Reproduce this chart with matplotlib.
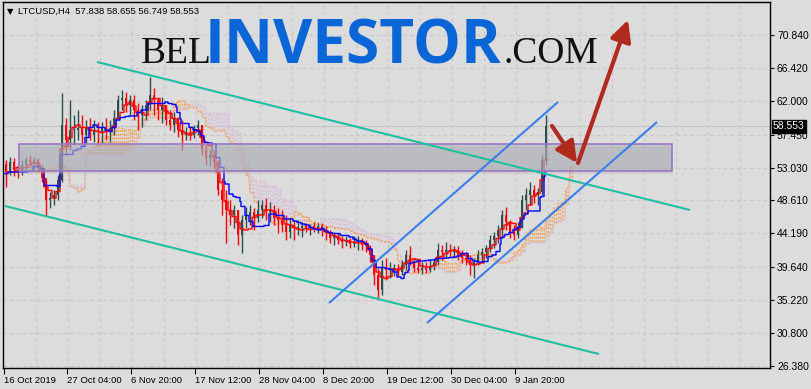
import matplotlib.pyplot as plt
import numpy as np
import pandas as pd

# LTCUSD H4 prices, one candle here per 4 H4 bars
first_open = 53.5
highs = [54.05, 54.45, 54.32, 53.38, 54.05, 54.45, 54.72, 54.45, 54.32, 53.38,
         51.36, 49.75, 50.02, 52.03, 63.05, 59.69, 62.11, 60.10, 60.77, 60.10,
         59.42, 59.69, 59.42, 59.15, 59.15, 59.69, 59.42, 60.77, 62.78, 63.45,
         63.18, 62.78, 62.78, 61.71, 61.44, 62.11, 65.20, 63.72, 62.38, 62.51,
         61.44, 60.77, 60.50, 59.83, 59.42, 58.48, 58.62, 58.75, 59.42, 58.75,
         56.06, 55.39, 55.39, 54.05, 51.63, 50.02, 48.68, 48.01, 47.33, 46.66,
         47.74, 48.01, 47.60, 48.68, 48.68, 48.95, 48.41, 48.01, 47.60, 47.33,
         46.66, 46.26, 45.99, 45.99, 45.72, 45.59, 45.45, 45.72, 45.59, 45.59,
         45.19, 44.65, 44.38, 44.24, 43.84, 43.84, 43.57, 43.84, 43.84, 43.57,
         43.31, 42.63, 41.29, 39.54, 40.62, 40.89, 40.35, 40.08, 40.08, 40.62,
         41.96, 42.50, 40.89, 40.62, 40.35, 40.35, 40.62, 40.89, 42.90, 42.63,
         43.03, 42.76, 42.50, 42.50, 41.96, 41.69, 41.29, 40.89, 41.96, 42.23,
         42.63, 43.98, 44.38, 45.32, 47.33, 47.74, 45.99, 45.32, 45.72, 49.35,
         50.29, 51.09, 50.69, 50.29, 54.72, 60.10]
lows = [50.42, 52.03, 51.90, 51.63, 52.03, 52.71, 52.97, 52.71, 52.44, 51.09,
        46.53, 47.60, 48.01, 48.68, 51.09, 54.72, 55.39, 56.06, 56.74, 56.06,
        56.33, 56.74, 56.47, 56.06, 56.33, 56.74, 56.47, 57.41, 59.42, 60.77,
        60.50, 60.10, 59.42, 58.08, 58.48, 59.42, 60.77, 60.10, 59.42, 59.02,
        58.75, 58.08, 57.81, 57.14, 55.39, 56.74, 56.74, 57.00, 57.41, 54.72,
        53.38, 53.24, 52.97, 49.35, 46.66, 42.90, 45.32, 44.92, 42.63, 41.56,
        44.92, 45.32, 44.65, 45.72, 46.26, 45.99, 45.72, 45.32, 44.24, 44.38,
        43.31, 43.57, 43.31, 43.98, 43.71, 44.38, 43.98, 44.38, 44.24, 43.84,
        43.31, 42.90, 42.63, 42.76, 42.23, 42.50, 42.23, 42.36, 41.96, 41.96,
        41.69, 40.35, 37.26, 35.38, 35.92, 37.93, 38.20, 38.47, 38.47, 38.59,
        39.28, 39.95, 39.01, 38.87, 38.74, 38.87, 39.01, 39.28, 39.95, 40.62,
        40.89, 41.02, 40.89, 40.62, 40.21, 39.95, 38.59, 38.20, 39.95, 40.35,
        40.89, 41.69, 42.23, 42.90, 43.57, 44.65, 43.57, 43.31, 43.57, 44.92,
        47.33, 48.01, 48.28, 48.01, 49.35, 53.38]
closes = [52.44, 53.78, 52.71, 52.44, 53.38, 54.05, 53.78, 54.05, 52.97, 51.63,
          48.68, 48.95, 49.35, 51.36, 58.75, 56.74, 58.08, 58.08, 58.35, 57.41,
          58.35, 57.41, 58.08, 57.81, 58.35, 58.08, 58.35, 59.69, 62.11, 62.38,
          61.44, 62.11, 60.77, 60.10, 60.77, 61.44, 62.78, 62.11, 60.77, 61.44,
          59.42, 58.75, 59.69, 58.08, 57.41, 57.81, 57.41, 58.35, 58.75, 55.39,
          54.32, 54.72, 53.78, 50.02, 48.68, 47.33, 46.66, 47.33, 43.98, 45.99,
          46.66, 47.07, 46.26, 47.33, 48.01, 47.07, 47.33, 46.26, 45.99, 45.32,
          44.38, 45.32, 44.92, 44.92, 45.19, 44.92, 45.19, 44.92, 45.19, 44.65,
          44.24, 43.57, 43.84, 43.31, 43.03, 43.31, 42.76, 43.03, 43.31, 42.63,
          42.50, 41.29, 38.59, 36.59, 39.54, 39.28, 39.28, 39.54, 39.01, 39.95,
          41.29, 40.35, 39.54, 39.28, 39.54, 39.28, 39.81, 40.35, 41.96, 41.69,
          41.96, 41.69, 41.96, 41.29, 40.89, 40.62, 39.95, 40.35, 41.29, 41.69,
          42.23, 43.31, 43.84, 44.65, 46.66, 45.72, 44.38, 43.98, 44.92, 48.68,
          49.35, 50.02, 49.35, 49.75, 54.05, 58.55]
bar_step = 4

tick_pos = [0, 63, 127, 191, 255, 319, 383, 447, 511]
tick_labels = ['16 Oct 2019', '27 Oct 04:00', '6 Nov 20:00', '17 Nov 12:00',
               '28 Nov 04:00', '8 Dec 20:00', '19 Dec 12:00', '30 Dec 04:00',
               '9 Jan 20:00']
price_ticks = [26.38, 30.80, 35.22, 39.64, 44.19, 48.61, 53.03, 57.45, 62.00,
               66.42, 70.84]
last_price = 58.553
header = 'LTCUSD,H4  57.838 58.655 56.749 58.553'

# drawn objects: (x0, x1), (price0, price1)
zone_x = (15, 668)
zone_y = (52.57, 56.20)
green_upper = ((93, 686), (67.21, 47.33))
green_lower = ((1, 595), (47.87, 27.99))
blue_upper = ((325, 554), (34.84, 61.84))
blue_lower = ((423, 653), (32.16, 59.15))
arrow_down = ((548, 58.62), (573, 53.65))
arrow_up = ((574, 53.65), (624, 72.86))

bg = '#dcdcdc'
fig = plt.figure(figsize=(8.11, 3.89), dpi=100, facecolor=bg)
ax = fig.add_axes([3 / 811, 1 - 368 / 389, 767 / 811, 366 / 389], facecolor=bg)
ax.set_xlim(-1, 766)
ax.set_ylim(26.11, 75.27)

lbl_font = ['Liberation Sans Narrow', 'Liberation Sans', 'DejaVu Sans']

# grid
ax.hlines(price_ticks, -1, 766, colors='#c6c6c6', lw=0.8, linestyles=(0, (3, 3)), zorder=0)
ax.vlines(np.arange(32, 766, 32), 26.11, 75.27, colors='#c6c6c6', lw=0.8,
          linestyles=(0, (3, 3)), zorder=0)
ax.axhline(last_price, color='#c4c4c4', lw=0.8, zorder=0.5)

# ichimoku on H4 resolution
h4_high = pd.Series(np.repeat(highs, bar_step))
h4_low = pd.Series(np.repeat(lows, bar_step))


def midline(p):
    return (h4_high.rolling(p, min_periods=1).max() + h4_low.rolling(p, min_periods=1).min()) / 2


tenkan = midline(9)
kijun = midline(26)
span_a = (tenkan + kijun) / 2
span_b = midline(52)
idx = np.arange(len(h4_high))
shift = 26

cx = idx[::2] + shift
a = span_a.values[::2]
b = span_b.values[::2]
m = a >= b
ax.vlines(cx[m], b[m], a[m], colors='#f4a460', lw=1.0, linestyles=(0, (1.5, 1.2)), zorder=1)
ax.vlines(cx[~m], a[~m], b[~m], colors='#d8bfd8', lw=1.0, linestyles=(0, (1.5, 1.2)), zorder=1)
ax.plot(idx + shift, span_a, color='#f4a460', lw=1.1, ls=(0, (1.5, 1)), zorder=1.2)
ax.plot(idx + shift, span_b, color='#d8bfd8', lw=1.1, ls=(0, (1.5, 1)), zorder=1.2)

# candles
o = np.array([first_open] + closes[:-1])
c = np.array(closes)
x = np.arange(len(c)) * bar_step + bar_step / 2
cols = np.where(c >= o, '#2f4f4f', '#ff0000')
ax.vlines(x, lows, highs, colors=cols, lw=1, zorder=2)
ax.bar(x, np.maximum(np.abs(c - o), 0.12), bottom=np.minimum(o, c), width=2.6,
       color=cols, zorder=2)

ax.step(idx, tenkan, where='post', color='#ff0000', lw=1, zorder=3)
ax.step(idx, kijun, where='post', color='#0000ff', lw=1, zorder=3)

# support / resistance zone
zw = zone_x[1] - zone_x[0]
zh = zone_y[1] - zone_y[0]
ax.add_patch(plt.Rectangle((zone_x[0], zone_y[0] - 0.35), zw, zh, fc='#b8b8b8', alpha=0.35,
                           ec='none', zorder=3.9))
ax.add_patch(plt.Rectangle((zone_x[0], zone_y[0]), zw, zh, fc='#a8a8b6', alpha=0.5,
                           ec='none', zorder=4))
ax.add_patch(plt.Rectangle((zone_x[0], zone_y[0]), zw, zh, fc='none', ec='#9a78c0',
                           lw=1.2, zorder=4.1))

for (xs, ys) in (green_upper, green_lower):
    ax.plot(xs, ys, color='#1fbf9f', lw=1.5, zorder=5, solid_capstyle='butt')
for (xs, ys) in (blue_upper, blue_lower):
    ax.plot(xs, ys, color='#3a80ea', lw=1.5, zorder=5, solid_capstyle='butt')

for start, end in (arrow_down, arrow_up):
    ax.annotate('', xy=end, xytext=start, zorder=6,
                arrowprops=dict(arrowstyle='-|>,head_length=0.9,head_width=0.45',
                                color='#b02a1e', lw=3, mutation_scale=14,
                                shrinkA=0, shrinkB=0))

# axes styling
for s in ax.spines.values():
    s.set_color('black')
    s.set_linewidth(1)
ax.yaxis.tick_right()
ax.set_yticks(price_ticks, [f'{v:.3f}' for v in price_ticks])
ax.tick_params(axis='y', direction='out', length=3, width=0.8, pad=2, labelsize=7.5,
               colors='black')
ax.set_xticks(tick_pos, tick_labels)
ax.tick_params(axis='x', direction='out', length=4, width=0.8, pad=1.5, labelsize=6.8)
for t in ax.get_xticklabels() + ax.get_yticklabels():
    t.set_family(lbl_font)
for t in ax.get_xticklabels():
    t.set_ha('left')

ax.text(1.004, last_price, f'{last_price:.3f}', transform=ax.get_yaxis_transform(),
        va='center', ha='left', color='white', fontsize=7.5, family=lbl_font,
        bbox=dict(boxstyle='square,pad=0.12', fc='black', ec='black'), zorder=10,
        clip_on=False)

# header
fig.text(7 / 811, 1 - 11.5 / 389, '\u25bc', fontsize=6, va='center', ha='left', color='black')
fig.text(18 / 811, 1 - 11.5 / 389, header, fontsize=6.8, va='center', ha='left',
         family=['Liberation Sans', 'DejaVu Sans'], color='black')

# watermark logo
base = 1 - 63 / 389
fig.text(141 / 811, base, 'BEL', fontsize=27, family=['Liberation Serif', 'DejaVu Serif'],
         va='baseline', ha='left', color='#111111')
fig.text(205 / 811, base, 'INVESTOR', fontsize=43.5, fontweight='bold',
         family=['Open Sans', 'DejaVu Sans'], va='baseline', ha='left', color='#0a66d6')
fig.text(503 / 811, base, '.COM', fontsize=27, family=['Liberation Serif', 'DejaVu Serif'],
         va='baseline', ha='left', color='#111111')

fig.savefig('out.png', dpi=100, facecolor=bg)
